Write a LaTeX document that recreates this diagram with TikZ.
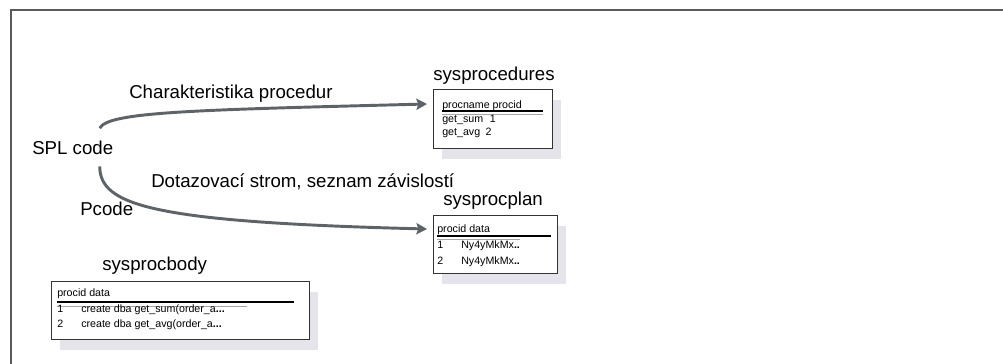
\documentclass[tikz,border=0pt]{standalone}
\usepackage{fontspec}
\setmainfont{Liberation Sans}
\usetikzlibrary{arrows.meta,calc,shadows}
\definecolor{flowgray}{HTML}{5E6368}
\definecolor{framegray}{HTML}{5A5A5A}
\definecolor{shadegray}{HTML}{E4E4EA}
\newcommand{\largetxt}{\fontsize{14}{16}\selectfont}
\newcommand{\smalltxt}{\fontsize{8}{9.5}\selectfont}

\begin{document}
\begin{tikzpicture}[x=0.75pt,y=-0.75pt,
  lbl/.style={anchor=base west,inner sep=0pt,font=\largetxt},
  cell/.style={anchor=base west,inner sep=0pt,font=\smalltxt},
  tbl/.style={draw=black!80,line width=0.9pt,fill=white,anchor=north west,inner sep=0pt,
    drop shadow={shadow xshift=6.5pt,shadow yshift=-7.5pt,fill=shadegray,draw=none,opacity=1}},
  flow/.style={draw=flowgray,line width=2.2pt,-{Stealth[length=8pt,width=8.5pt,inset=1.5pt]}},
  headline/.style={line width=1.5pt},
  rowline/.style={gray!70,line width=0.5pt}]
\useasboundingbox (0,0) rectangle (1003,364);
\draw[framegray,line width=1.5pt] (10.5,364) -- (10.5,9.5) -- (1003,9.5);

% labels
\node[lbl] (charlbl) at (129,98) {Charakteristika procedur};
\node[lbl] (spl) at (32,154) {SPL code};
\node[lbl] (dotlbl) at (151,187) {Dotazovací strom, seznam závislostí};
\node[lbl] (pcode) at (80,215) {Pcode};

% sysprocedures
\node[lbl] (proctitle) at (433,80) {sysprocedures};
\node[tbl,minimum width=119*0.75pt,minimum height=59*0.75pt] (procs) at (433,89) {};
\node[cell] (prochead) at (442,108) {procname procid};
\draw[headline] (442,111) -- (543,111);
\draw[rowline] (442,114) -- (543,114);
\node[cell] (procrow1) at (442,122) {get\_sum\hspace{5pt}1};
\node[cell] (procrow2) at (442,135) {get\_avg\hspace{4pt}2};

% sysprocplan
\node[lbl] (plantitle) at (443,205) {sysprocplan};
\node[tbl,minimum width=124*0.75pt,minimum height=58*0.75pt] (plan) at (433,215) {};
\node[cell] (planhead) at (437,232) {procid data};
\draw[headline] (437,236) -- (551,236);
\draw[rowline] (437,239) -- (520,239);
\node[cell] (planrow1) at (437,248) {\makebox[18pt][l]{1}Ny4yMkMx\textbf{..}};
\node[cell] (planrow2) at (437,264) {\makebox[18pt][l]{2}Ny4yMkMx\textbf{..}};

% sysprocbody
\node[lbl] (bodytitle) at (102,270) {sysprocbody};
\node[tbl,minimum width=258*0.75pt,minimum height=58*0.75pt] (body) at (51,281) {};
\node[cell] (bodyhead) at (57,296) {procid data};
\draw[headline] (57,301.5) -- (294,301.5);
\draw[rowline] (57,306.5) -- (247,306.5);
\node[cell] (bodyrow1) at (57,312) {\makebox[18pt][l]{1}create dba get\_sum(order\_a\textbf{...}};
\node[cell] (bodyrow2) at (57,327) {\makebox[18pt][l]{2}create dba get\_avg(order\_a\textbf{...}};

% flows
\draw[flow] ($(spl.north)+(27,-12)$) .. controls (108,112) and (190,110) .. ($(procs.north west)+(-6,15)$);
\draw[flow] ($(spl.south)+(27,12)$) .. controls (100,205) and (150,222) .. ($(plan.north west)+(-6,14)$);
\end{tikzpicture}
\end{document}
